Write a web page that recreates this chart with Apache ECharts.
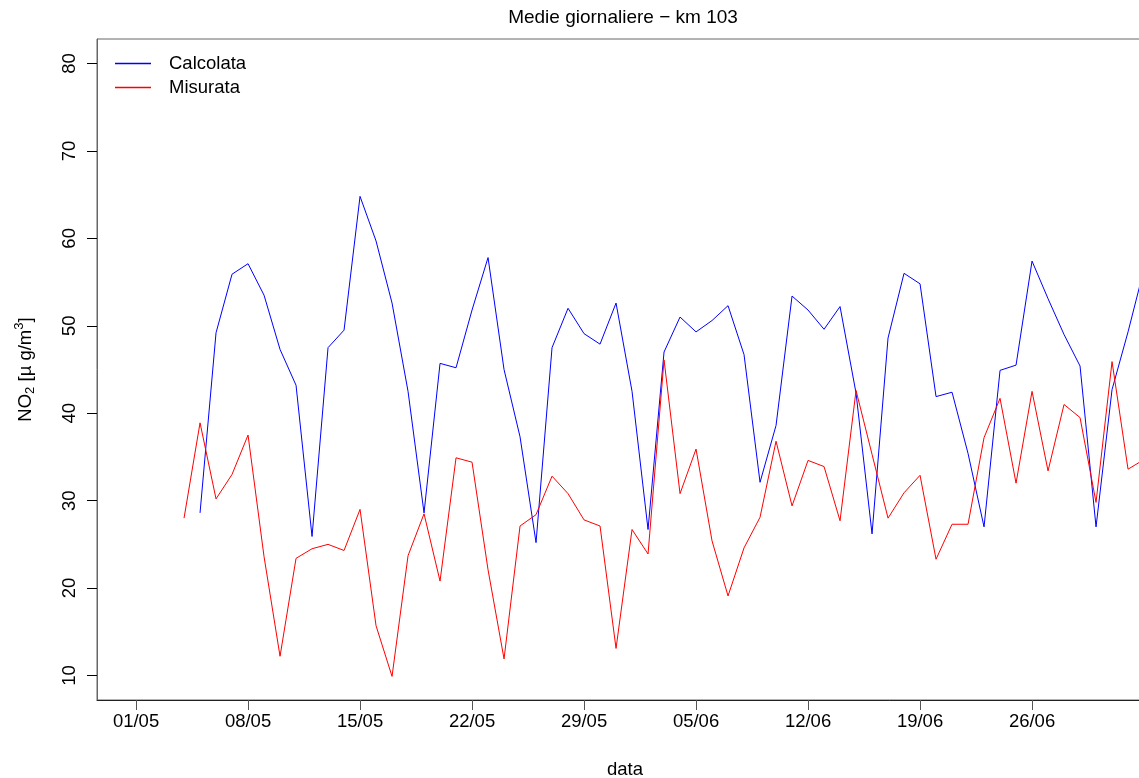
<!DOCTYPE html>
<html>
<head>
<meta charset="utf-8">
<script src="https://cdn.jsdelivr.net/npm/echarts@6/dist/echarts.min.js"></script>
<style>
  html, body { margin: 0; padding: 0; background: #fff; overflow: hidden; }
  /* the plot box runs past the right edge of the window, as in the original */
  #main { width: 1170px; height: 778px; }
</style>
</head>
<body>
<div id="main"></div>
<script>
// x is the day number counted from 01/05
var tickDays = [0, 7, 14, 21, 28, 35, 42, 49, 56];
var tickLabels = ['01/05', '08/05', '15/05', '22/05', '29/05', '05/06', '12/06', '19/06', '26/06'];
var yTicks = [10, 20, 30, 40, 50, 60, 70, 80];

// Misurata starts on 04/05 (day 3)
var misurataStart = 3;
var misurata = [28.0, 38.9, 30.2, 33.0, 37.5, 23.6, 12.2, 23.4, 24.5, 25.0,
    24.3, 29.0, 15.7, 9.9, 23.7, 28.5, 20.8, 34.9, 34.4, 22.1,
    11.9, 27.1, 28.4, 32.8, 30.8, 27.8, 27.1, 13.1, 26.7, 23.9,
    46.1, 30.8, 35.9, 25.4, 19.1, 24.6, 28.1, 36.8, 29.4, 34.6,
    33.9, 27.7, 42.6, 35.3, 28.0, 30.9, 32.9, 23.3, 27.3, 27.3,
    37.2, 41.7, 32.0, 42.5, 33.4, 41.0, 39.5, 29.8, 45.9, 33.6, 34.7];

// Calcolata starts on 05/05 (day 4)
var calcolataStart = 4;
var calcolata = [28.6, 49.2, 55.9, 57.1, 53.5, 47.3, 43.2, 25.9, 47.5, 49.5,
    64.8, 59.7, 52.6, 42.5, 28.6, 45.7, 45.2, 51.8, 57.8, 45.0,
    37.3, 25.2, 47.5, 52.0, 49.1, 47.9, 52.6, 42.5, 26.7, 47.0,
    51.0, 49.3, 50.6, 52.3, 46.7, 32.1, 38.6, 53.4, 51.8, 49.6,
    52.2, 42.3, 26.2, 48.6, 56.0, 54.8, 41.9, 42.4, 35.4, 27.0,
    44.9, 45.5, 57.4, 53.1, 49.0, 45.4, 27.0, 42.7, 49.3, 56.5];

function toPoints(start, values) {
    return values.map(function(v, i) { return [start + i, v]; });
}

var font = '"Liberation Sans", Arial, Helvetica, sans-serif';
var fs = 18.5;

var myChart = echarts.init(document.getElementById('main'));

var option = {
    animation: false,
    backgroundColor: '#ffffff',
    textStyle: { fontFamily: font },
    title: {
        text: 'Medie giornaliere \u2212 km 103',
        left: 618,
        top: 3,
        textAlign: 'center',
        textStyle: { fontFamily: font, fontSize: 19, fontWeight: 'normal', color: '#000' }
    },
    legend: {
        orient: 'vertical',
        left: 110,
        top: 49,
        icon: 'rect',
        itemWidth: 36,
        itemHeight: 1.3,
        itemGap: 5,
        textStyle: { fontFamily: font, fontSize: fs, color: '#000', padding: [0, 0, 0, 13] },
        data: ['Calcolata', 'Misurata']
    },
    grid: {
        show: true,
        left: 97,
        top: 39,
        width: 1056,
        height: 661,
        containLabel: false,
        outerBoundsMode: 'none',
        borderColor: '#666',
        borderWidth: 1
    },
    xAxis: {
        type: 'value',
        min: -2.44,
        max: 63.56,
        name: 'data',
        nameLocation: 'middle',
        nameGap: 60,
        nameTextStyle: { fontFamily: font, fontSize: fs, color: '#000' },
        axisLine: { show: true, onZero: false, lineStyle: { color: '#222', width: 1 } },
        axisTick: { show: true, inside: false, customValues: tickDays, length: 10, lineStyle: { color: '#555' } },
        axisLabel: {
            customValues: tickDays,
            margin: 12,
            fontFamily: font,
            fontSize: fs,
            color: '#000',
            formatter: function(v) {
                var k = tickDays.indexOf(v);
                return k > -1 ? tickLabels[k] : '';
            }
        },
        splitLine: { show: false }
    },
    yAxis: {
        type: 'value',
        min: 7.2,
        max: 82.8,
        name: '{t|NO}{sub|2}{t| [\u00b5 g/m}{sup|3}{t|]}',
        nameLocation: 'middle',
        nameRotate: 90,
        nameGap: 58,
        nameTextStyle: {
            fontFamily: font,
            color: '#000',
            rich: {
                t: { fontFamily: font, fontSize: fs, color: '#000', lineHeight: 26, verticalAlign: 'middle' },
                sub: { fontFamily: font, fontSize: 13, color: '#000', lineHeight: 26, verticalAlign: 'bottom', padding: [0, 0, 2, 0] },
                sup: { fontFamily: font, fontSize: 13, color: '#000', lineHeight: 26, verticalAlign: 'top', padding: [0, 0, 0, 0] }
            }
        },
        axisLine: { show: true, onZero: false, lineStyle: { color: '#666', width: 1 } },
        axisTick: { show: true, inside: false, customValues: yTicks, length: 10, lineStyle: { color: '#000' } },
        axisLabel: {
            customValues: yTicks,
            rotate: 90,
            margin: 18,
            fontFamily: font,
            fontSize: fs,
            color: '#000'
        },
        splitLine: { show: false }
    },
    series: [{
        name: 'Calcolata',
        type: 'line',
        symbol: 'none',
        clip: true,
        data: toPoints(calcolataStart, calcolata),
        lineStyle: { color: '#0000ff', width: 1 },
        itemStyle: { color: '#0000ff' }
    }, {
        name: 'Misurata',
        type: 'line',
        symbol: 'none',
        clip: true,
        data: toPoints(misurataStart, misurata),
        lineStyle: { color: '#ff0000', width: 1 },
        itemStyle: { color: '#ff0000' }
    }]
};

myChart.setOption(option);
</script>
</body>
</html>
